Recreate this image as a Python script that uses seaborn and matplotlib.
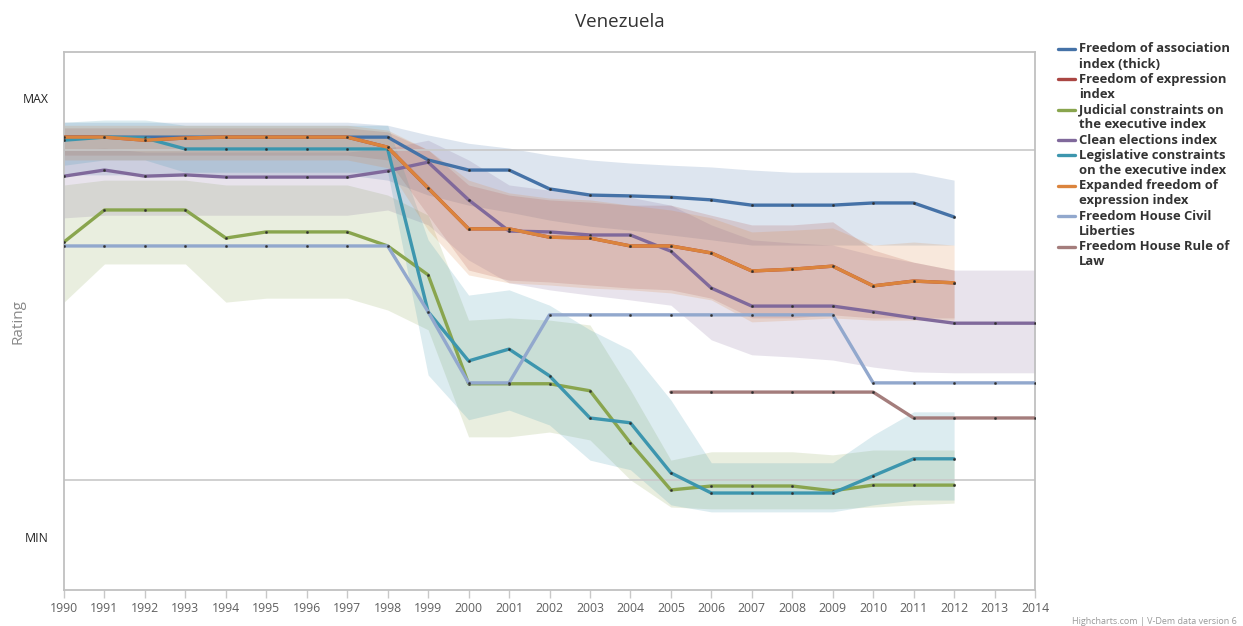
import matplotlib
matplotlib.use("Agg")
import matplotlib.pyplot as plt
from matplotlib.lines import Line2D
import pandas as pd
import seaborn as sns

# ---- data (rating scale: MIN = 0, MAX = 1) ----
years_vdem = list(range(1990, 2013))
years_all = list(range(1990, 2015))
years_fh_rule = list(range(2005, 2015))

association = [0.911, 0.911, 0.911, 0.911, 0.911, 0.911, 0.911, 0.911, 0.911, 0.859, 0.836, 0.836,
               0.793, 0.779, 0.777, 0.774, 0.768, 0.756, 0.756, 0.756, 0.761, 0.761, 0.729]
association_hi = [0.945, 0.945, 0.945, 0.945, 0.945, 0.945, 0.945, 0.945, 0.938, 0.916, 0.897, 0.886,
                  0.870, 0.859, 0.852, 0.847, 0.843, 0.836, 0.831, 0.831, 0.831, 0.831, 0.813]
association_lo = [0.825, 0.825, 0.825, 0.825, 0.825, 0.825, 0.825, 0.825, 0.813, 0.779, 0.756, 0.740,
                  0.722, 0.708, 0.699, 0.688, 0.677, 0.665, 0.665, 0.665, 0.665, 0.665, 0.665]

expression = [0.911, 0.911, 0.904, 0.909, 0.911, 0.911, 0.911, 0.911, 0.888, 0.795, 0.702, 0.702,
              0.683, 0.681, 0.663, 0.663, 0.647, 0.606, 0.610, 0.617, 0.572, 0.583, 0.579]
expression_hi = [0.932, 0.932, 0.932, 0.932, 0.932, 0.932, 0.932, 0.932, 0.923, 0.882, 0.802, 0.779,
                 0.768, 0.763, 0.756, 0.756, 0.733, 0.711, 0.711, 0.718, 0.654, 0.626, 0.608]
expression_lo = [0.870, 0.870, 0.870, 0.870, 0.870, 0.870, 0.870, 0.870, 0.859, 0.733, 0.608, 0.585,
                 0.581, 0.574, 0.567, 0.563, 0.544, 0.499, 0.499, 0.506, 0.499, 0.499, 0.499]

judicial = [0.672, 0.745, 0.745, 0.745, 0.681, 0.695, 0.695, 0.695, 0.663, 0.597, 0.349, 0.349,
            0.349, 0.333, 0.214, 0.107, 0.116, 0.116, 0.116, 0.105, 0.118, 0.118, 0.118]
judicial_hi = [0.802, 0.813, 0.813, 0.813, 0.802, 0.802, 0.802, 0.802, 0.779, 0.733, 0.494, 0.499,
               0.494, 0.483, 0.335, 0.175, 0.194, 0.194, 0.194, 0.187, 0.198, 0.198, 0.198]
judicial_lo = [0.535, 0.622, 0.622, 0.622, 0.535, 0.544, 0.544, 0.544, 0.517, 0.472, 0.228, 0.228,
               0.239, 0.221, 0.130, 0.068, 0.064, 0.064, 0.064, 0.064, 0.068, 0.073, 0.077]

clean = [0.822, 0.836, 0.822, 0.825, 0.820, 0.820, 0.820, 0.820, 0.834, 0.854, 0.768, 0.697, 0.695,
         0.688, 0.688, 0.651, 0.567, 0.526, 0.526, 0.526, 0.513, 0.499, 0.487, 0.487, 0.487]
clean_hi = [0.882, 0.886, 0.877, 0.877, 0.877, 0.877, 0.877, 0.877, 0.886, 0.904, 0.859, 0.802, 0.790,
            0.779, 0.774, 0.756, 0.711, 0.677, 0.670, 0.665, 0.642, 0.626, 0.608, 0.608, 0.608]
clean_lo = [0.727, 0.733, 0.733, 0.733, 0.733, 0.733, 0.733, 0.733, 0.745, 0.711, 0.631, 0.579, 0.563,
            0.551, 0.540, 0.528, 0.449, 0.415, 0.410, 0.403, 0.387, 0.376, 0.374, 0.374, 0.374]

legislative = [0.904, 0.911, 0.909, 0.884, 0.884, 0.884, 0.884, 0.884, 0.884, 0.513, 0.401, 0.428,
               0.367, 0.271, 0.260, 0.146, 0.100, 0.100, 0.100, 0.100, 0.139, 0.178, 0.178]
legislative_hi = [0.945, 0.950, 0.950, 0.938, 0.938, 0.938, 0.938, 0.938, 0.938, 0.677, 0.551, 0.563,
                  0.528, 0.472, 0.426, 0.312, 0.169, 0.169, 0.169, 0.169, 0.232, 0.285, 0.285]
legislative_lo = [0.847, 0.859, 0.859, 0.831, 0.831, 0.831, 0.831, 0.831, 0.831, 0.369, 0.267, 0.289,
                  0.255, 0.175, 0.153, 0.073, 0.057, 0.057, 0.057, 0.057, 0.073, 0.084, 0.084]

expanded = [0.911, 0.911, 0.904, 0.909, 0.911, 0.911, 0.911, 0.911, 0.888, 0.795, 0.702, 0.702,
            0.683, 0.681, 0.663, 0.663, 0.647, 0.606, 0.610, 0.617, 0.572, 0.583, 0.579]
expanded_hi = [0.938, 0.938, 0.938, 0.938, 0.938, 0.938, 0.938, 0.938, 0.927, 0.882, 0.813, 0.784,
               0.772, 0.768, 0.756, 0.745, 0.727, 0.695, 0.699, 0.704, 0.665, 0.672, 0.665]
expanded_lo = [0.859, 0.859, 0.859, 0.859, 0.859, 0.859, 0.859, 0.859, 0.841, 0.699, 0.597, 0.579,
               0.574, 0.567, 0.563, 0.556, 0.540, 0.490, 0.494, 0.499, 0.494, 0.494, 0.494]

fh_civil = [0.663, 0.663, 0.663, 0.663, 0.663, 0.663, 0.663, 0.663, 0.663, 0.513, 0.351, 0.351, 0.506,
            0.506, 0.506, 0.506, 0.506, 0.506, 0.506, 0.506, 0.351, 0.351, 0.351, 0.351, 0.351]
fh_rule = [0.330, 0.330, 0.330, 0.330, 0.330, 0.330, 0.271, 0.271, 0.271, 0.271]

legend_labels = [
    ["Freedom of association", "index (thick)"],
    ["Freedom of expression", "index"],
    ["Judicial constraints on", "the executive index"],
    ["Clean elections index"],
    ["Legislative constraints", "on the executive index"],
    ["Expanded freedom of", "expression index"],
    ["Freedom House Civil", "Liberties"],
    ["Freedom House Rule of", "Law"],
]
colors = ["#4572A7", "#AA4643", "#89A54E", "#80699B", "#3D96AE", "#DB843D", "#92A8CD", "#A47D7C"]

series = [
    (years_vdem, association, association_lo, association_hi),
    (years_vdem, expression, expression_lo, expression_hi),
    (years_vdem, judicial, judicial_lo, judicial_hi),
    (years_all, clean, clean_lo, clean_hi),
    (years_vdem, legislative, legislative_lo, legislative_hi),
    (years_vdem, expanded, expanded_lo, expanded_hi),
    (years_all, fh_civil, None, None),
    (years_fh_rule, fh_rule, None, None),
]

# ---- styling ----
sns.set_theme(style="white")
plt.rcParams["font.family"] = ["Open Sans", "DejaVu Sans"]

W, H = 1243, 626
fig = plt.figure(figsize=(W / 100, H / 100), dpi=100)
ax = fig.add_axes([64 / W, 1 - 590 / H, (1035 - 64) / W, (590 - 52) / H])

# uncertainty bands underneath all lines
for (x, y, lo, hi), c in zip(series, colors):
    if lo is not None:
        ax.fill_between(x, lo, hi, color=c, alpha=0.18, linewidth=0, zorder=1)

# reference lines
for yv in (0.882, 0.130):
    ax.axhline(yv, color="#C8C8C8", lw=1.2, zorder=1.5)

# index lines with point markers
for i, ((x, y, lo, hi), c) in enumerate(zip(series, colors)):
    df = pd.DataFrame({"year": x, "value": y})
    sns.lineplot(data=df, x="year", y="value", ax=ax, color=c, lw=2.4,
                 marker="o", markersize=1.7, markerfacecolor="#303030",
                 markeredgecolor="#303030", markeredgewidth=0.2, zorder=3 + i)

ax.set_xlim(1990, 2014)
ax.set_ylim(-0.121, 1.105)
ax.set_xticks(years_all)
ax.set_xticklabels([str(v) for v in years_all], fontsize=8.8, color="#606060")
ax.set_yticks([0, 1])
ax.set_yticklabels(["MIN", "MAX"], fontsize=8.8, color="#222222")
ax.tick_params(axis="y", length=0, pad=11)
ax.tick_params(axis="x", length=6, width=1, color="#C8C8C8", direction="out", pad=3, bottom=True)
ax.set_xlabel("")
ax.set_ylabel("")
for s in ax.spines.values():
    s.set_color("#C0C0C0")
    s.set_linewidth(1.3)
    s.set_visible(True)

fig.text(620 / W, 1 - 22 / H, "Venezuela", ha="center", va="center", fontsize=13.5, color="#333333")
fig.text(18 / W, 1 - 321 / H, "Rating", rotation=90, ha="center", va="center",
         fontsize=11, color="#8a8a8a")
fig.text(1237 / W, 1 - 621 / H, "Highcharts.com | V-Dem data version 6", ha="right",
         va="center", fontsize=6.5, color="#999999")

# legend, one row per text line
line_y = 49
step = 15.2
for lines, c in zip(legend_labels, colors):
    fig.add_artist(Line2D([1058 / W, 1075 / W], [1 - line_y / H, 1 - line_y / H],
                          color=c, lw=2.4, transform=fig.transFigure))
    for txt in lines:
        fig.text(1079 / W, 1 - line_y / H, txt, ha="left", va="center", fontsize=9.4,
                 fontweight="bold", color="#333333")
        line_y += step

fig.savefig("out.png", dpi=100)
